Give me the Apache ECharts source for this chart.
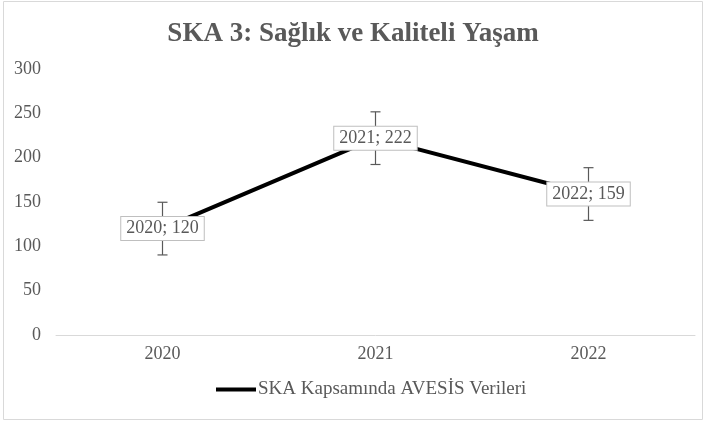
<!DOCTYPE html>
<html lang="tr">
  <head>
    <meta charset="UTF-8" />
    <title>SKA 3: Sağlık ve Kaliteli Yaşam</title>
    <style>
      html, body { margin: 0; padding: 0; width: 100%; height: 100%; overflow: hidden; background: #fff; }
      #chart { width: 706px; height: 422px; }
    </style>
    <script src="https://cdnjs.cloudflare.com/ajax/libs/echarts/6.0.0/echarts.min.js"></script>
  </head>
  <body>
    <div id="chart"></div>
    <script>
      // veriler
      const years = ["2020", "2021", "2022"];
      const values = [120, 222, 159];
      const errors = [29.7, 29.7, 29.7]; // standart hata
      const seriesName = "SKA Kapsamında AVESİS Verileri";

      const font = "'Liberation Serif', 'Times New Roman', serif";
      const gray = "#595959";

      const chart = echarts.init(document.getElementById("chart"), null, { renderer: "canvas" });

      const errData = years.map((y, i) => [i, values[i] - errors[i], values[i] + errors[i]]);

      const option = {
        animation: false,
        graphic: [{
          type: "rect",
          shape: { x: 3.5, y: 1.5, width: 699, height: 418 },
          style: { fill: "none", stroke: "#d9d9d9", lineWidth: 1 },
          silent: true
        }],
        title: {
          text: "SKA 3: Sağlık ve Kaliteli Yaşam",
          left: "center",
          top: 16,
          textStyle: { fontFamily: font, fontSize: 27, fontWeight: "bold", color: gray }
        },
        legend: {
          bottom: 18,
          left: 211,
          itemWidth: 40,
          itemHeight: 4,
          itemGap: 0,
          icon: "rect",
          data: [seriesName],
          textStyle: { fontFamily: font, fontSize: 19, color: gray, padding: [0, 0, 0, -3] }
        },
        grid: { left: 56, right: 11, top: 69, bottom: 87 },
        xAxis: {
          type: "category",
          data: years,
          boundaryGap: true,
          axisLine: { lineStyle: { color: "#d9d9d9", width: 1 } },
          axisTick: { show: false },
          axisLabel: { fontFamily: font, fontSize: 18, color: gray, margin: 10 }
        },
        yAxis: {
          type: "value",
          min: 0,
          max: 300,
          interval: 50,
          splitLine: { show: false },
          axisLine: { show: false },
          axisTick: { show: false },
          axisLabel: { fontFamily: font, fontSize: 18, color: gray, margin: 15 }
        },
        series: [
          {
            type: "custom",
            z: 1,
            silent: true,
            data: errData,
            renderItem: function (params, api) {
              const x = api.value(0);
              const lo = api.coord([x, api.value(1)]);
              const hi = api.coord([x, api.value(2)]);
              const cap = 5;
              const st = { stroke: gray, lineWidth: 1.2 };
              return {
                type: "group",
                children: [
                  { type: "line", shape: { x1: lo[0], y1: lo[1], x2: hi[0], y2: hi[1] }, style: st },
                  { type: "line", shape: { x1: lo[0] - cap, y1: lo[1], x2: lo[0] + cap, y2: lo[1] }, style: st },
                  { type: "line", shape: { x1: hi[0] - cap, y1: hi[1], x2: hi[0] + cap, y2: hi[1] }, style: st }
                ]
              };
            }
          },
          {
            name: seriesName,
            type: "line",
            z: 2,
            data: values,
            symbol: "none",
            color: "#000",
            lineStyle: { color: "#000", width: 4 }
          },
          {
            // veri etiketleri
            type: "scatter",
            z: 3,
            silent: true,
            data: values,
            symbolSize: 1,
            itemStyle: { color: "rgba(0,0,0,0)", opacity: 1 },
            label: {
              show: true,
              position: "inside",
              formatter: "{b}; {c}",
              fontFamily: font,
              fontSize: 18,
              color: gray,
              opacity: 1,
              backgroundColor: "#fff",
              borderColor: "#bfbfbf",
              borderWidth: 1,
              padding: [3, 5, 2, 5]
            }
          }
        ]
      };

      chart.setOption(option);
    </script>
  </body>
</html>
